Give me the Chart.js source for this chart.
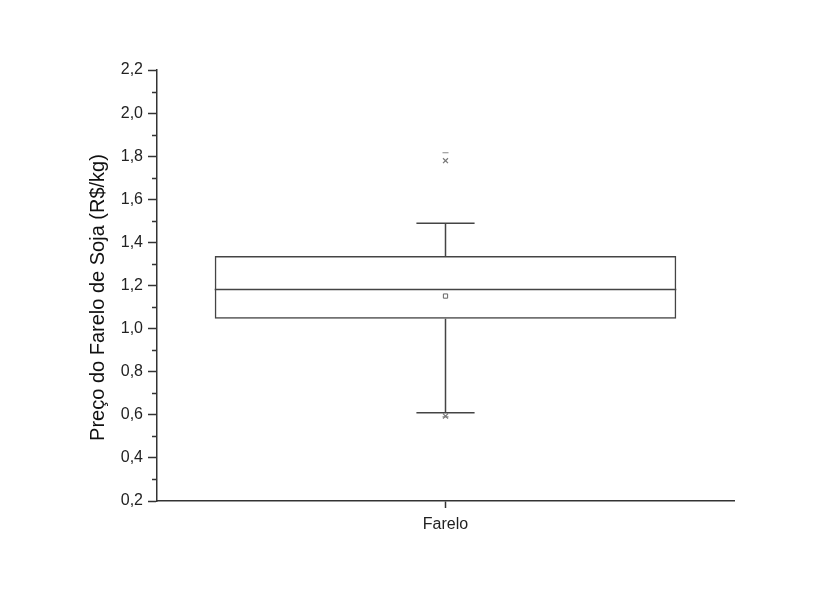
<!DOCTYPE html>
<html><head><meta charset="utf-8">
<script src="https://cdn.jsdelivr.net/npm/chart.js@4/dist/chart.umd.min.js"></script>
<style>html,body{margin:0;padding:0;background:#fff}#wrap{width:839px;height:592px}</style>
</head><body><div id="wrap"><canvas id="c" width="839" height="592"></canvas></div>
<script>
const categories = ['Farelo'];
const q1 = [1.046];
const q3 = [1.337];
const median = [1.182];
const mean = [1.151];
const whiskerLow = [0.610];
const whiskerHigh = [1.489];
const pct1 = [0.594];
const pct99 = [1.779];
const minVal = [0.590];
const maxVal = [1.816];
const yMin = 0.2, yMax = 2.2, yStep = 0.2;
const yTitle = 'Preço do Farelo de Soja (R$/kg)';

const lineColor = '#444';
const axisColor = '#333';

const boxPlugin = {
  id: 'boxExtras',
  afterDatasetsDraw(chart) {
    const ctx = chart.ctx, ys = chart.scales.y;
    const meta = chart.getDatasetMeta(0);
    ctx.save();
    ctx.strokeStyle = lineColor; ctx.lineWidth = 1.5;
    meta.data.forEach((bar, i) => {
      const x = bar.x, w = bar.width, half = w / 2;
      const capHalf = w * 0.063;
      const yMed = ys.getPixelForValue(median[i]);
      const yQ1 = ys.getPixelForValue(q1[i]), yQ3 = ys.getPixelForValue(q3[i]);
      const yLo = ys.getPixelForValue(whiskerLow[i]), yHi = ys.getPixelForValue(whiskerHigh[i]);
      ctx.beginPath();
      ctx.moveTo(x - half, yMed); ctx.lineTo(x + half, yMed);
      ctx.moveTo(x, yQ3); ctx.lineTo(x, yHi);
      ctx.moveTo(x - capHalf, yHi); ctx.lineTo(x + capHalf, yHi);
      ctx.moveTo(x, yQ1); ctx.lineTo(x, yLo);
      ctx.moveTo(x - capHalf, yLo); ctx.lineTo(x + capHalf, yLo);
      ctx.stroke();
    });
    ctx.restore();
  },
  afterDraw(chart) {
    const ctx = chart.ctx, ys = chart.scales.y, a = chart.chartArea;
    ctx.save();
    ctx.strokeStyle = axisColor; ctx.lineWidth = 1.5;
    ctx.beginPath();
    for (let v = yMin + yStep / 2; v < yMax; v += yStep) {
      const y = Math.round(ys.getPixelForValue(v)) + 0.5;
      ctx.moveTo(a.left - 5, y); ctx.lineTo(a.left, y);
    }
    ctx.stroke();
    // y-axis title
    const yc = ys.getPixelForValue((yMin + yMax) / 2) + 12;
    ctx.translate(104, yc);
    ctx.rotate(-Math.PI / 2);
    ctx.fillStyle = '#111';
    ctx.font = '20px "Liberation Sans", Arial, sans-serif';
    ctx.textAlign = 'center';
    ctx.textBaseline = 'alphabetic';
    ctx.fillText(yTitle, 0, 0);
    ctx.restore();
  }
};

new Chart(document.getElementById('c'), {
  data: {
    labels: categories,
    datasets: [
      { type: 'bar', data: q1.map((v, i) => [v, q3[i]]), backgroundColor: 'rgba(0,0,0,0)',
        borderColor: lineColor, borderWidth: 1.5, borderSkipped: false,
        barPercentage: 0.8, categoryPercentage: 1, order: 2 },
      { type: 'line', data: mean, showLine: false, pointStyle: 'rect', pointRadius: 3,
        pointBorderWidth: 1, pointBorderColor: '#666', pointBackgroundColor: '#fff', order: 1 },
      { type: 'line', data: pct99, showLine: false, pointStyle: 'crossRot', pointRadius: 3.5,
        pointBorderWidth: 1.2, pointBorderColor: '#777', order: 1 },
      { type: 'line', data: pct1, showLine: false, pointStyle: 'crossRot', pointRadius: 3.5,
        pointBorderWidth: 1.2, pointBorderColor: '#777', order: 1 },
      { type: 'line', data: maxVal, showLine: false, pointStyle: 'line', pointRadius: 3,
        pointBorderWidth: 1.2, pointBorderColor: '#888', order: 1 },
      { type: 'line', data: minVal, showLine: false, pointStyle: 'line', pointRadius: 3,
        pointBorderWidth: 1.2, pointBorderColor: '#888', order: 1 }
    ]
  },
  options: {
    responsive: false, animation: false,
    layout: { padding: { left: 86, right: 105, top: 70, bottom: 0 } },
    plugins: { legend: { display: false }, tooltip: { enabled: false } },
    scales: {
      x: {
        type: 'category', offset: true,
        grid: { display: true, drawOnChartArea: false, drawTicks: true, tickLength: 7,
                tickWidth: 1.5, tickColor: axisColor, offset: false },
        border: { display: true, color: axisColor, width: 1.5 },
        ticks: { color: '#222', font: { family: 'Liberation Sans, Arial', size: 16 }, padding: 7 },
        afterFit(s) { s.height = 91; }
      },
      y: {
        min: yMin, max: yMax,
        grid: { display: true, drawOnChartArea: false, drawTicks: true, tickLength: 9,
                tickWidth: 1.5, tickColor: axisColor },
        border: { display: true, color: axisColor, width: 1.5 },
        ticks: { stepSize: yStep, color: '#222', padding: 5,
                 font: { family: 'Liberation Sans, Arial', size: 16 },
                 callback: v => Number(v).toFixed(1).replace('.', ',') },
        title: { display: false, text: yTitle },
        afterFit(s) { s.width = 71; }
      }
    }
  },
  plugins: [boxPlugin]
});
</script></body></html>
